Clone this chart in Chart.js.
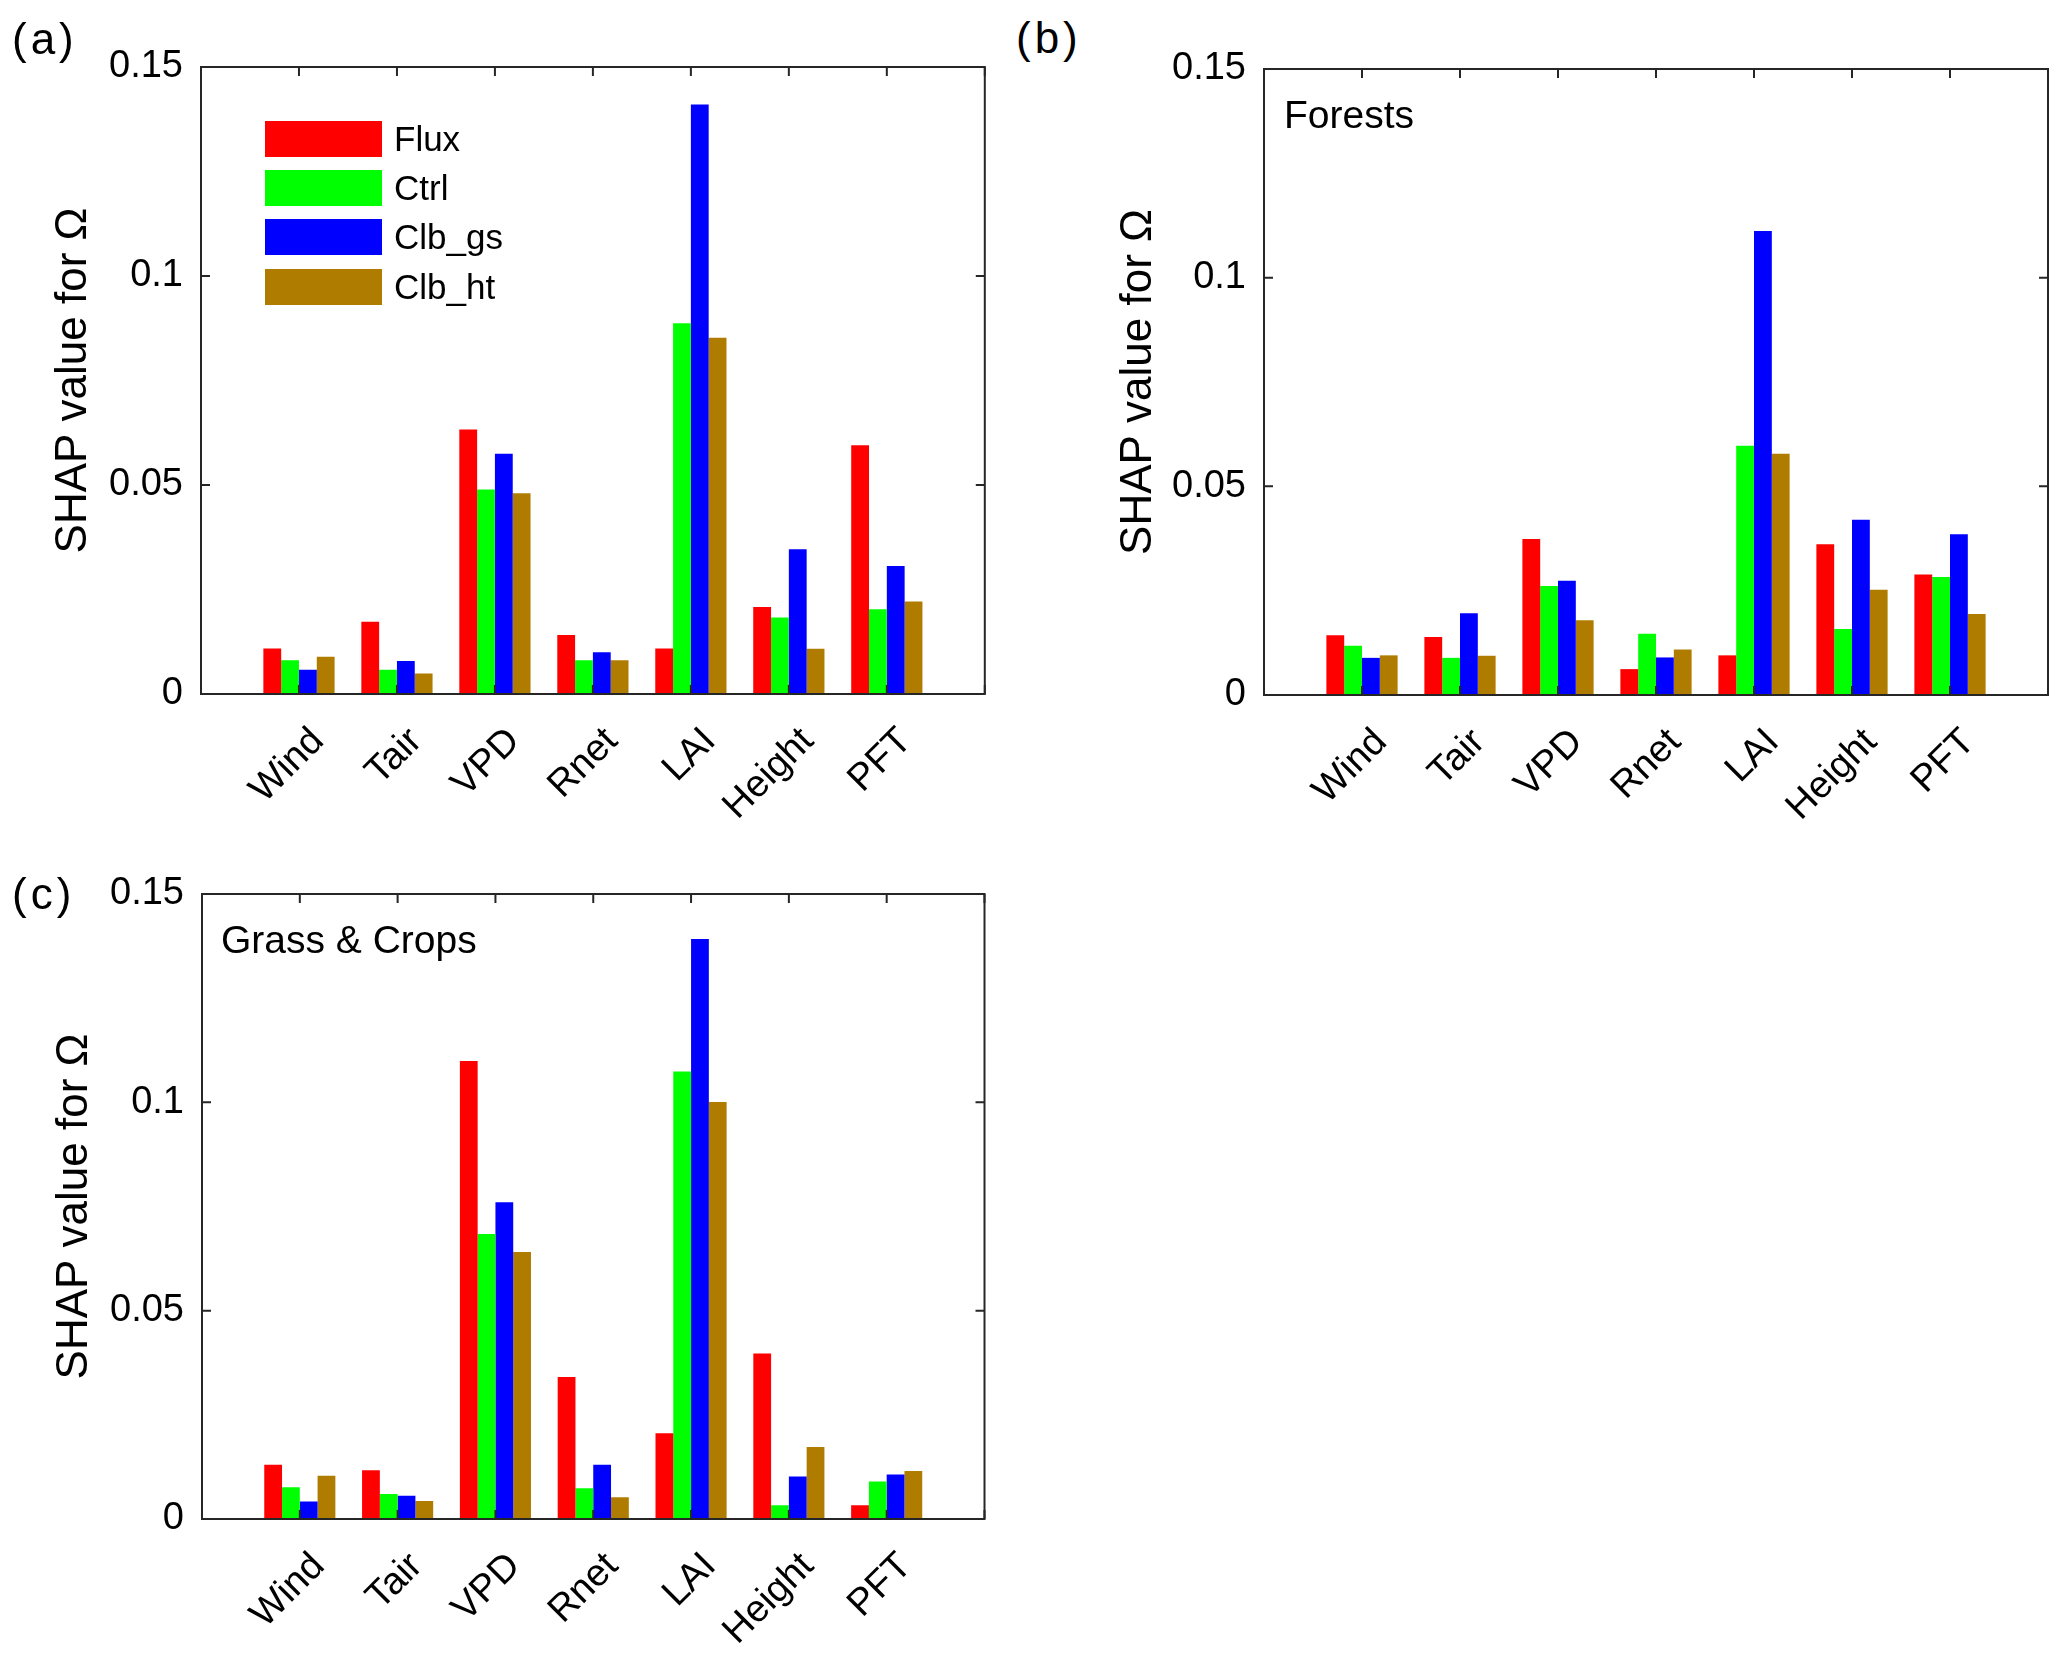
<!DOCTYPE html>
<html>
<head>
<meta charset="utf-8">
<script src="https://cdn.jsdelivr.net/npm/chart.js@4.4.0/dist/chart.umd.min.js"></script>
<style>
html, body { margin:0; padding:0; background:#fff; overflow:hidden; width:2067px; height:1663px; }
#page { position:absolute; left:0; top:0; width:2067px; height:1663px;
        font-family:"Liberation Sans", Arial, sans-serif; color:#000; }
canvas { position:absolute; }
.tag { position:absolute; font-size:44px; line-height:1; letter-spacing:4px; white-space:nowrap; }
.note { position:absolute; font-size:39px; line-height:1; white-space:nowrap; }
#legend { position:absolute; left:265px; top:114px; }
.row { display:flex; align-items:center; height:49.4px; }
.swatch { width:117px; height:36px; }
.row span { margin-left:12px; font-size:35px; line-height:36px; }
</style>
</head>
<body>
<div id="page">
  <canvas id="chart_a"></canvas>
  <canvas id="chart_b"></canvas>
  <canvas id="chart_c"></canvas>
  <div class="tag" style="left:12px;top:17px">(a)</div>
  <div class="tag" style="left:1016px;top:16px">(b)</div>
  <div class="tag" style="left:12px;top:872px">(c)</div>
  <div class="note" style="left:1284px;top:95px">Forests</div>
  <div class="note" style="left:221px;top:920px">Grass &amp; Crops</div>
  <div id="legend"></div>
</div>
<script>
let categories = ['Wind', 'Tair', 'VPD', 'Rnet', 'LAI', 'Height', 'PFT'];
let series_names = ['Flux', 'Ctrl', 'Clb_gs', 'Clb_ht'];
let series_colors = ['#FF0000', '#00FF00', '#0000FF', '#B07C00'];
let y_title = 'SHAP value for \u03A9';

// (a) all sites
let all_flux = [0.0109, 0.0173, 0.0633, 0.0141, 0.0109, 0.0208, 0.0595];
let all_ctrl = [0.0081, 0.0058, 0.0489, 0.0081, 0.0887, 0.0183, 0.0203];
let all_gs   = [0.0058, 0.0079, 0.0575, 0.0100, 0.1410, 0.0346, 0.0306];
let all_ht   = [0.0089, 0.0049, 0.0480, 0.0081, 0.0852, 0.0108, 0.0221];

// (b) forests
let forest_flux = [0.0143, 0.0139, 0.0374, 0.0062, 0.0095, 0.0361, 0.0289];
let forest_ctrl = [0.0118, 0.0089, 0.0261, 0.0147, 0.0597, 0.0158, 0.0283];
let forest_gs   = [0.0089, 0.0196, 0.0274, 0.0090, 0.1112, 0.0420, 0.0385];
let forest_ht   = [0.0095, 0.0094, 0.0179, 0.0109, 0.0578, 0.0252, 0.0194];

// (c) grass & crops
let grass_flux = [0.0130, 0.0117, 0.1099, 0.0341, 0.0206, 0.0397, 0.0033];
let grass_ctrl = [0.0076, 0.0060, 0.0684, 0.0074, 0.1074, 0.0033, 0.0090];
let grass_gs   = [0.0042, 0.0056, 0.0760, 0.0130, 0.1392, 0.0102, 0.0107];
let grass_ht   = [0.0104, 0.0043, 0.0641, 0.0052, 0.1001, 0.0173, 0.0115];


//legend

let legend = document.getElementById('legend');
series_names.forEach(function (name, i) {
  let row = document.createElement('div');
  row.className = 'row';
  let box = document.createElement('div');
  box.className = 'swatch';
  box.style.background = series_colors[i];
  let label = document.createElement('span');
  label.textContent = name;
  row.appendChild(box);
  row.appendChild(label);
  legend.appendChild(row);
});


//charts

// inward ticks on all four sides and the box, like the matlab axes
let frame_plugin = {
  id: 'frame',
  afterDatasetsDraw(chart) {
    let ctx = chart.ctx;
    let a = chart.chartArea;
    let x = chart.scales.x;
    let y = chart.scales.y;
    ctx.save();
    ctx.strokeStyle = '#262626';
    ctx.lineWidth = 2;
    ctx.beginPath();
    x.ticks.forEach(function (t) {
      let px = x.getPixelForValue(t.value);
      ctx.moveTo(px, a.bottom); ctx.lineTo(px, a.bottom - 9);
      ctx.moveTo(px, a.top); ctx.lineTo(px, a.top + 9);
    });
    y.ticks.forEach(function (t) {
      let py = y.getPixelForValue(t.value);
      ctx.moveTo(a.left, py); ctx.lineTo(a.left + 9, py);
      ctx.moveTo(a.right, py); ctx.lineTo(a.right - 9, py);
    });
    ctx.stroke();
    ctx.strokeRect(a.left, a.top, a.right - a.left, a.bottom - a.top);
    ctx.restore();
  }
};

const AXIS_W = 176;
const AXIS_H = 140;
const PAD_T = 67;
const FONT = '"Liberation Sans", Arial, sans-serif';

// box = axes edges in page pixels: left, top, right, bottom
function make_chart(id, series, box, title_pad) {
  let w = box[2] - box[0];
  let h = box[3] - box[1];
  let canvas = document.getElementById(id);
  let cw = Math.ceil(AXIS_W + w + 12);
  let ch = Math.ceil(PAD_T + h + AXIS_H);
  canvas.width = cw;
  canvas.height = ch;
  canvas.style.width = cw + 'px';
  canvas.style.height = ch + 'px';
  canvas.style.left = (box[0] - AXIS_W) + 'px';
  canvas.style.top = (box[1] - PAD_T) + 'px';

  let datasets = series.map(function (values, i) {
    return {
      label: series_names[i],
      data: values.map(function (v, j) { return {x: j + 1, y: v}; }),
      backgroundColor: series_colors[i],
      borderWidth: 0,
      categoryPercentage: 0.727,
      barPercentage: 1
    };
  });

  return new Chart(canvas, {
    type: 'bar',
    data: {datasets: datasets},
    options: {
      responsive: false,
      animation: false,
      devicePixelRatio: 1,
      layout: {autoPadding: false, padding: {left: 0, top: PAD_T, right: cw - AXIS_W - w, bottom: 0}},
      plugins: {legend: {display: false}, tooltip: {enabled: false}},
      scales: {
        x: {
          type: 'linear', min: 0, max: 8, offset: false,
          grid: {display: false, drawTicks: false},
          border: {display: false},
          ticks: {
            stepSize: 1, autoSkip: false, maxRotation: 45, minRotation: 45,
            labelOffset: 19, padding: 25, color: '#000',
            font: {family: FONT, size: 38},
            callback: function (v) { return categories[v - 1] || ''; }
          },
          afterFit: function (s) {
            s.height = AXIS_H;
            s.paddingLeft = 0;
            s.paddingRight = 0;
          }
        },
        y: {
          min: 0, max: 0.15,
          grid: {display: false, drawTicks: false},
          border: {display: false},
          ticks: {
            stepSize: 0.05, padding: 18, color: '#000',
            font: {family: FONT, size: 38},
            callback: function (v) { return String(+v.toFixed(2)); }
          },
          title: {
            display: true, text: y_title, color: '#000',
            font: {family: FONT, size: 44},
            padding: {top: title_pad, bottom: 0}
          },
          afterFit: function (s) { s.width = AXIS_W; }
        }
      }
    },
    plugins: [frame_plugin]
  });
}

make_chart('chart_a', [all_flux, all_ctrl, all_gs, all_ht], [200.5, 66.7, 984.3, 693], 22);
make_chart('chart_b', [forest_flux, forest_ctrl, forest_gs, forest_ht], [1264, 69.3, 2048, 695], 24);
make_chart('chart_c', [grass_flux, grass_ctrl, grass_gs, grass_ht], [202, 893.5, 984.5, 1518], 22);
</script>
</body>
</html>
